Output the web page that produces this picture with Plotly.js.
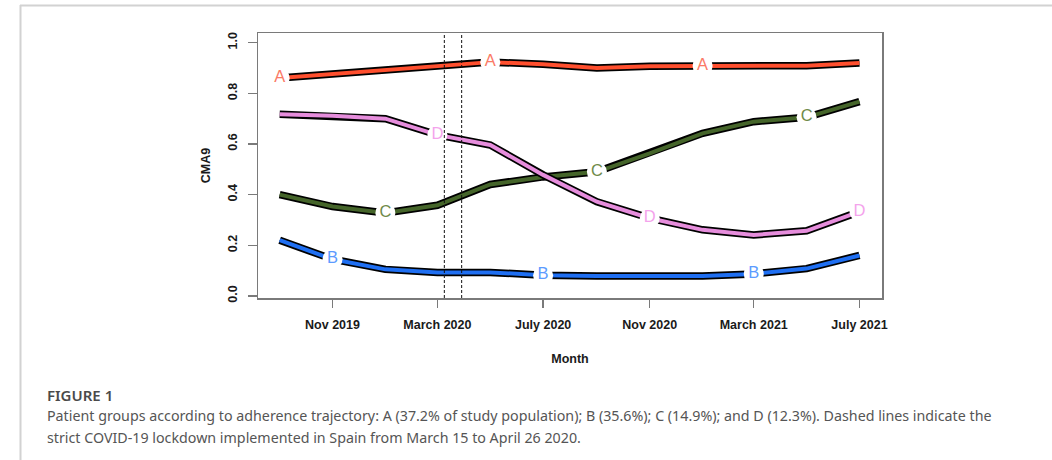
<!DOCTYPE html>
<html>
<head>
<meta charset="utf-8">
<script src="https://cdn.plot.ly/plotly-3.0.1.min.js"></script>
<style>
  html, body { margin: 0; padding: 0; background: #ffffff; }
  #chart { width: 1052px; height: 460px; }
</style>
</head>
<body>
<div id="chart"></div>
<script>
// Bimonthly observation points
const months = ['2019-09-01', '2019-11-01', '2020-01-01', '2020-03-01', '2020-05-01', '2020-07-01',
                '2020-09-01', '2020-11-01', '2021-01-01', '2021-03-01', '2021-05-01', '2021-07-01'];

// Mean CMA9 per adherence trajectory group
const groupA = [0.860, 0.875, 0.890, 0.907, 0.923, 0.915, 0.900, 0.907, 0.908, 0.908, 0.909, 0.920];
const groupB = [0.220, 0.145, 0.105, 0.093, 0.093, 0.082, 0.079, 0.079, 0.079, 0.087, 0.108, 0.160];
const groupC = [0.400, 0.353, 0.328, 0.358, 0.440, 0.470, 0.490, 0.563, 0.642, 0.688, 0.705, 0.767];
const groupD = [0.717, 0.711, 0.700, 0.636, 0.596, 0.478, 0.372, 0.307, 0.261, 0.241, 0.257, 0.333];

const groupNames = ['A', 'B', 'C', 'D'];
// Points of each trajectory that carry its letter
const letterPoints = [[0, 4, 8], [1, 5, 9], [2, 6, 10], [3, 7, 11]];

// Axis ticks
const xTickDates = ['2019-11-01', '2020-03-01', '2020-07-01', '2020-11-01', '2021-03-01', '2021-07-01'];
const xTickLabels = ['Nov 2019', 'March 2020', 'July 2020', 'Nov 2020', 'March 2021', 'July 2021'];
const yTickValues = [0, 0.2, 0.4, 0.6, 0.8, 1.0];
const yTickLabels = ['0.0', '0.2', '0.4', '0.6', '0.8', '1.0'];

// Strict lockdown markers
const lockdownLines = ['2020-03-09', '2020-03-29'];

const captionTitle = 'FIGURE 1';
const captionLines = [
  'Patient groups according to adherence trajectory: A (37.2% of study population); B (35.6%); C (14.9%); and D (12.3%). Dashed lines indicate the',
  'strict COVID-19 lockdown implemented in Spain from March 15 to April 26 2020.'
];

// Styling
const series = [groupA, groupB, groupC, groupD];
const lineColors = ['#ff4f2e', '#1f6ff2', '#45652a', '#e68ddc'];
const letterColors = ['#fb7a66', '#5c9bff', '#6f8a4a', '#f4a3ec'];
const axisColor = '#7a7a7a';
const tickFontFamily = 'Liberation Sans, Arial, sans-serif';
const tickFont = { family: tickFontFamily, size: 12.5, color: '#1a1a1a', weight: 'bold' };

// Plot box in pixels (used to place page-level text and frame)
const plotL = 258, plotR = 882, plotT = 33, plotB = 298;
const W = 1052, H = 460;
const px = x => (x - plotL) / (plotR - plotL);
const py = y => (plotB - y) / (plotB - plotT);

const traces = [];

// Each trajectory: black casing underneath, coloured stroke on top
series.forEach((vals, i) => {
  traces.push({
    x: months, y: vals, type: 'scatter', mode: 'lines',
    line: { color: '#000000', width: 7.5 },
    hoverinfo: 'skip', showlegend: false
  });
  traces.push({
    x: months, y: vals, type: 'scatter', mode: 'lines',
    line: { color: lineColors[i], width: 4 },
    hoverinfo: 'skip', showlegend: false
  });
});

// Letters sitting in a white gap on the lines
series.forEach((vals, i) => {
  const idx = letterPoints[i];
  traces.push({
    x: idx.map(k => months[k]),
    y: idx.map(k => vals[k]),
    type: 'scatter', mode: 'markers+text',
    marker: { symbol: 'circle', size: 20, color: '#ffffff', line: { width: 0 } },
    text: idx.map(() => groupNames[i]),
    textposition: 'middle center',
    textfont: { family: tickFontFamily, size: 16.5, color: letterColors[i] },
    hoverinfo: 'skip', showlegend: false, cliponaxis: false
  });
});

const shapes = lockdownLines.map(d => ({
  type: 'line', xref: 'x', yref: 'paper',
  x0: d, x1: d, y0: 0, y1: 1,
  line: { color: '#111111', width: 1, dash: '3px,2px' },
  layer: 'above'
}));

// Page frame lines
shapes.push({
  type: 'line', xref: 'paper', yref: 'paper',
  x0: px(20), x1: px(W), y0: py(5.5), y1: py(5.5),
  line: { color: '#d2d2d2', width: 2 }
});
shapes.push({
  type: 'line', xref: 'paper', yref: 'paper',
  x0: px(20.5), x1: px(20.5), y0: py(5), y1: py(H),
  line: { color: '#d2d2d2', width: 2 }
});

const captionFont = 'Noto Sans, Open Sans, sans-serif';
const annotations = [
  {
    xref: 'paper', yref: 'paper', x: px(45), y: py(395),
    xanchor: 'left', yanchor: 'middle', showarrow: false,
    text: captionTitle,
    font: { family: captionFont, size: 15, color: '#4a4a4a', weight: 600 }
  }
];
captionLines.forEach((t, i) => {
  annotations.push({
    xref: 'paper', yref: 'paper', x: px(45), y: py(415 + i * 22),
    xanchor: 'left', yanchor: 'middle', showarrow: false,
    text: t,
    font: { family: captionFont, size: 14.25, color: '#555555' }
  });
});

const layout = {
  width: W, height: H,
  margin: { l: plotL, r: W - plotR, t: plotT, b: H - plotB, pad: 0 },
  paper_bgcolor: '#ffffff',
  plot_bgcolor: '#ffffff',
  showlegend: false,
  xaxis: {
    type: 'date',
    range: ['2019-08-07', '2021-07-27'],
    tickmode: 'array', tickvals: xTickDates, ticktext: xTickLabels,
    ticks: 'outside', ticklen: 8, tickwidth: 1.3, tickcolor: axisColor,
    showline: true, mirror: true, linecolor: axisColor, linewidth: 1.5,
    showgrid: false, zeroline: false,
    tickfont: tickFont,
    ticklabelstandoff: 6,
    title: { text: 'Month', font: tickFont, standoff: 23 },
    automargin: false, fixedrange: true
  },
  yaxis: {
    range: [-0.008, 1.038],
    tickmode: 'array', tickvals: yTickValues, ticktext: yTickLabels,
    tickangle: -90,
    ticks: 'outside', ticklen: 9, tickwidth: 1.3, tickcolor: axisColor,
    showline: true, mirror: true, linecolor: axisColor, linewidth: 1.5,
    showgrid: false, zeroline: false,
    tickfont: tickFont,
    ticklabelstandoff: 6,
    title: { text: 'CMA9', font: tickFont, standoff: 12 },
    automargin: false, fixedrange: true
  },
  shapes: shapes,
  annotations: annotations
};

Plotly.newPlot('chart', traces, layout, { staticPlot: true, displayModeBar: false });
</script>
</body>
</html>
